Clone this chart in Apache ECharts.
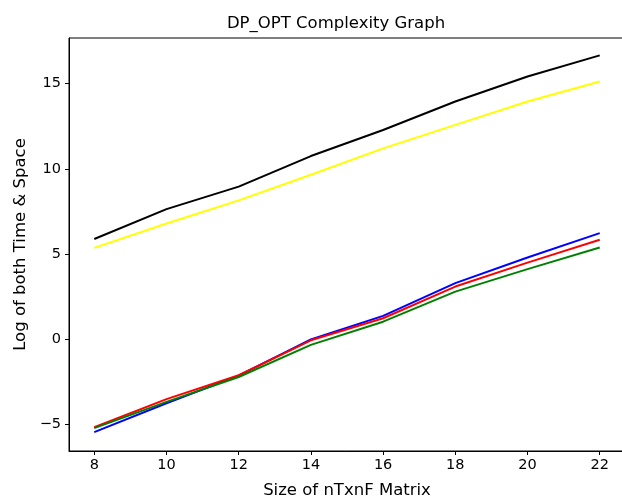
<!DOCTYPE html>
<html>
<head>
<meta charset="utf-8">
<script src="https://cdn.jsdelivr.net/npm/echarts@6/dist/echarts.min.js"></script>
<style>
  html, body { margin: 0; padding: 0; background: #fff; }
  #main { width: 622px; height: 501px; }
</style>
</head>
<body>
<div id="main"></div>
<script>
// matrix sizes (x) and log values
const sizes = [8, 10, 12, 14, 16, 18, 20, 22];
const blackLine = [5.89, 7.64, 8.96, 10.75, 12.28, 13.95, 15.41, 16.65];
const yellowLine = [5.37, 6.8, 8.15, 9.65, 11.2, 12.58, 13.95, 15.12];
const blueLine = [-5.43, -3.74, -2.12, 0.0, 1.38, 3.3, 4.8, 6.23];
const redLine = [-5.15, -3.5, -2.1, -0.05, 1.24, 3.1, 4.5, 5.84];
const greenLine = [-5.2, -3.66, -2.2, -0.32, 1.04, 2.8, 4.12, 5.39];
const xTicks = [8, 10, 12, 14, 16, 18, 20, 22];
const yTicks = [-5, 0, 5, 10, 15];

const font = 'DejaVu Sans';
const minus = (v) => String(v).replace('-', '\u2212');
const pairs = (ys) => sizes.map((x, i) => [x, ys[i]]);

const mkSeries = (name, data, color) => ({
  name: name,
  type: 'line',
  data: pairs(data),
  showSymbol: false,
  symbol: 'none',
  lineStyle: { color: color, width: 2 },
  itemStyle: { color: color },
  animation: false,
});

const chart = echarts.init(document.getElementById('main'));
chart.setOption({
  backgroundColor: '#fff',
  animation: false,
  title: {
    text: 'DP_OPT Complexity Graph',
    left: 331,
    top: 10,
    textAlign: 'center',
    textStyle: { fontFamily: font, fontSize: 16.5, fontWeight: 'normal', color: '#000' },
  },
  grid: {
    left: 69,
    top: 38,
    width: 556,
    bottom: 50,
    outerBoundsMode: 'none',
    containLabel: false,
    show: true,
    borderColor: '#000',
    borderWidth: 1,
    backgroundColor: 'transparent',
  },
  xAxis: {
    type: 'value',
    min: 7.3,
    max: 22.7,
    name: 'Size of nTxnF Matrix',
    nameLocation: 'middle',
    nameGap: 31,
    nameTextStyle: { fontFamily: font, fontSize: 16.5, color: '#000' },
    splitLine: { show: false },
    axisLine: { show: true, onZero: false, lineStyle: { color: '#000', width: 1 } },
    axisTick: { show: true, inside: false, length: 4, customValues: xTicks, lineStyle: { color: '#000' } },
    axisLabel: {
      customValues: xTicks,
      margin: 7,
      fontFamily: font,
      fontSize: 14.5,
      color: '#000',
      formatter: minus,
    },
  },
  yAxis: {
    type: 'value',
    min: -6.54,
    max: 17.67,
    name: 'Log of both Time & Space',
    nameLocation: 'middle',
    nameGap: 40,
    nameRotate: 90,
    nameTextStyle: { fontFamily: font, fontSize: 16.5, color: '#000' },
    splitLine: { show: false },
    axisLine: { show: true, onZero: false, lineStyle: { color: '#000', width: 1 } },
    axisTick: { show: true, inside: false, length: 4, customValues: yTicks, lineStyle: { color: '#000' } },
    axisLabel: {
      customValues: yTicks,
      margin: 8,
      fontFamily: font,
      fontSize: 14.5,
      color: '#000',
      formatter: minus,
    },
  },
  series: [
    mkSeries('black', blackLine, '#000000'),
    mkSeries('yellow', yellowLine, '#ffff00'),
    mkSeries('blue', blueLine, '#0000ff'),
    mkSeries('red', redLine, '#ff0000'),
    mkSeries('green', greenLine, '#008000'),
  ],
});
</script>
</body>
</html>
